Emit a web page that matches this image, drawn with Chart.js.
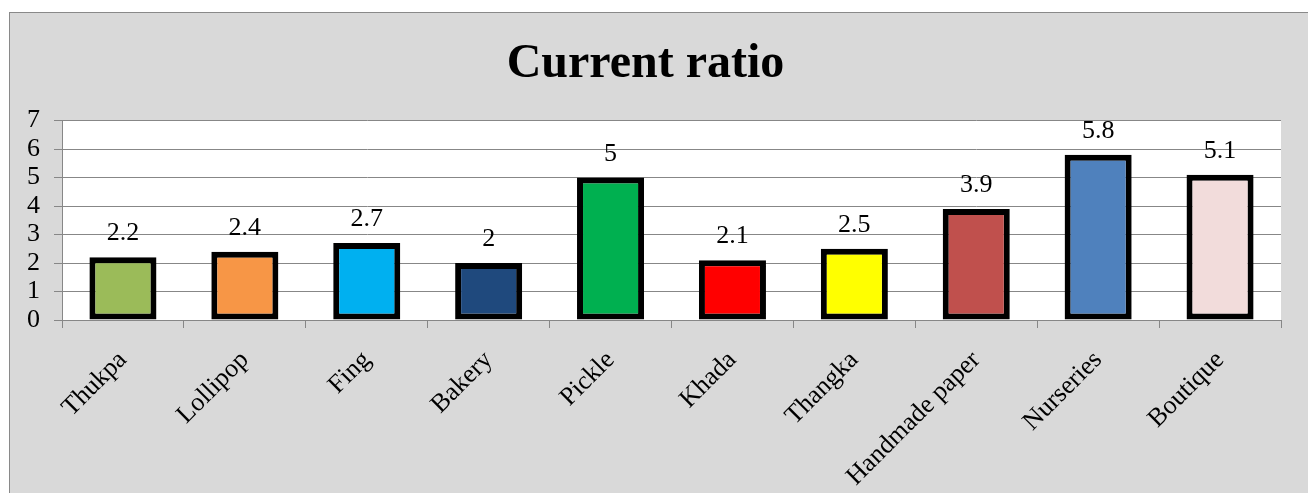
<!DOCTYPE html>
<html>
<head>
<meta charset="utf-8">
<title>Current ratio</title>
<script src="https://cdn.jsdelivr.net/npm/chart.js@4"></script>
<style>
  body { margin: 0; background: #ffffff; }
  #chartBox {
    position: absolute;
    left: 9px;
    top: 12px;
    width: 1298px;
    height: 480px;
    background: #d9d9d9;
    border-left: 1px solid #898989;
    border-top: 1px solid #898989;
  }
</style>
</head>
<body>
<div id="chartBox"><canvas id="ratioChart"></canvas></div>
<script>
'use strict';
//chart data
var categories = ['Thukpa', 'Lollipop', 'Fing', 'Bakery', 'Pickle', 'Khada', 'Thangka', 'Handmade paper', 'Nurseries', 'Boutique'];
var ratioValues = [2.2, 2.4, 2.7, 2, 5, 2.1, 2.5, 3.9, 5.8, 5.1];
var yTicks = [0, 1, 2, 3, 4, 5, 6, 7];
var barColors = ['#9bbb59', '#f79646', '#00b0f0', '#1f497d', '#00b050', '#ff0000', '#ffff00', '#c0504d', '#4f81bd', '#f2dcdb'];

var SERIF = '"Liberation Serif", "Times New Roman", serif';
var GRID_GRAY = '#878787';

//white plot background behind the bars
var plotBackground = {
  id: 'plotBackground',
  beforeDraw: function(chart){
    var area = chart.chartArea;
    var ctx = chart.ctx;
    ctx.save();
    ctx.fillStyle = '#ffffff';
    ctx.fillRect(area.left, area.top, area.right - area.left, area.bottom - area.top);
    ctx.restore();
  }
};

//value written above each bar
var valueLabels = {
  id: 'valueLabels',
  afterDatasetsDraw: function(chart){
    var ctx = chart.ctx;
    var meta = chart.getDatasetMeta(0);
    ctx.save();
    ctx.font = '26px ' + SERIF;
    ctx.fillStyle = '#000000';
    ctx.textAlign = 'center';
    ctx.textBaseline = 'alphabetic';
    for(var i = 0; i < meta.data.length; i++){
      var bar = meta.data[i];
      ctx.fillText(String(ratioValues[i]), bar.x, bar.y - 17);
    }
    ctx.restore();
  }
};

var ctx = document.getElementById('ratioChart').getContext('2d');

new Chart(ctx, {
  type: 'bar',
  data: {
    labels: categories,
    datasets: [{
      data: ratioValues,
      backgroundColor: barColors,
      borderColor: '#000000',
      borderWidth: 6,
      borderSkipped: false,
      barPercentage: 0.55,
      categoryPercentage: 1
    }]
  },
  options: {
    responsive: true,
    maintainAspectRatio: false,
    animation: false,
    layout: {
      padding: { top: 0, right: 27, bottom: 0, left: 0 }
    },
    plugins: {
      legend: { display: false },
      tooltip: { enabled: false },
      title: {
        display: true,
        text: 'Current ratio',
        color: '#000000',
        font: { family: SERIF, size: 48, weight: 'bold', lineHeight: 1.2 },
        padding: { top: 23, bottom: 27 }
      }
    },
    scales: {
      x: {
        grid: {
          display: true,
          drawOnChartArea: false,
          drawTicks: true,
          tickLength: 8,
          offset: true,
          color: GRID_GRAY
        },
        border: { display: true, color: GRID_GRAY, width: 1 },
        ticks: {
          color: '#000000',
          font: { family: SERIF, size: 26 },
          minRotation: 45,
          maxRotation: 45,
          autoSkip: false,
          padding: 17
        },
        afterFit: function(scale){
          scale.height = 173;
        }
      },
      y: {
        min: 0,
        max: 7,
        afterBuildTicks: function(scale){
          scale.ticks = yTicks.map(function(v){ return { value: v }; });
        },
        grid: {
          color: GRID_GRAY,
          lineWidth: 1,
          drawTicks: true,
          tickLength: 8
        },
        border: { display: true, color: GRID_GRAY, width: 1 },
        ticks: {
          color: '#000000',
          font: { family: SERIF, size: 26 },
          autoSkip: false,
          padding: 14
        },
        afterFit: function(scale){
          scale.width = 52;
        }
      }
    }
  },
  plugins: [plotBackground, valueLabels]
});
</script>
</body>
</html>
